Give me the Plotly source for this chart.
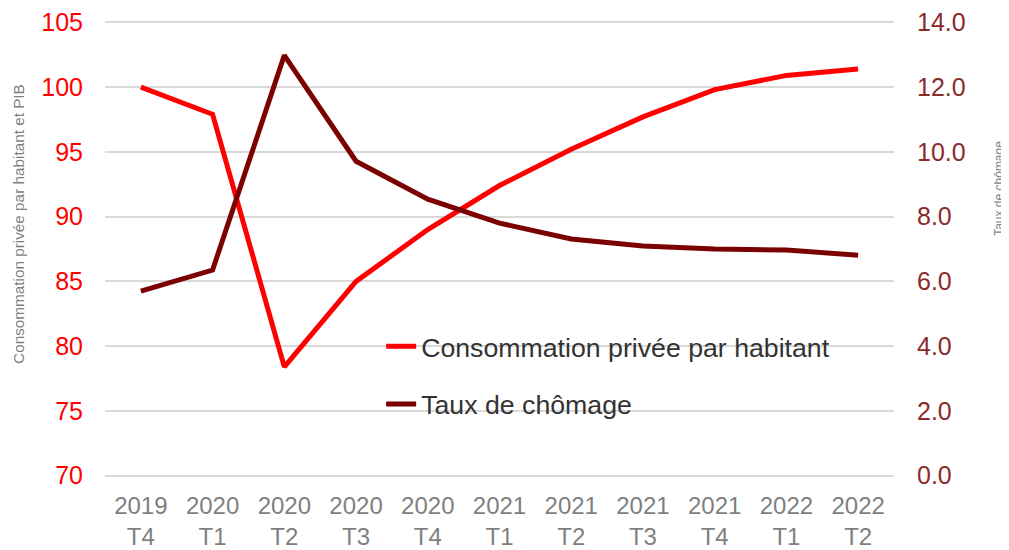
import plotly.graph_objects as go

trimestres = ["2019<br>T4", "2020<br>T1", "2020<br>T2", "2020<br>T3", "2020<br>T4",
              "2021<br>T1", "2021<br>T2", "2021<br>T3", "2021<br>T4", "2022<br>T1", "2022<br>T2"]
consommation = [100.0, 97.9, 78.4, 85.0, 89.0, 92.4, 95.2, 97.7, 99.8, 100.9, 101.4]
chomage = [5.7, 6.35, 12.98, 9.71, 8.54, 7.8, 7.31, 7.09, 7.0, 6.97, 6.81]

fig = go.Figure()

fig.add_trace(go.Scatter(
    x=trimestres, y=consommation, mode="lines",
    name="Consommation privée par habitant",
    line=dict(color="#FF0000", width=5),
    legendgroup="a",
))
fig.add_trace(go.Scatter(
    x=trimestres, y=chomage, mode="lines",
    name="Taux de chômage",
    line=dict(color="#7B0000", width=5),
    yaxis="y2", legendgroup="b",
))

# la page ajoute ~8px de marge au body : on compense ici
fig.update_layout(
    width=1009, height=550,
    margin=dict(l=97, r=123, t=13, b=81),
    plot_bgcolor="white", paper_bgcolor="white",
    font=dict(family="Liberation Sans, Arial, sans-serif"),
    showlegend=True,
    legend=dict(
        x=0.35, y=0.339, xanchor="left", yanchor="top",
        bgcolor="rgba(0,0,0,0)",
        font=dict(size=26.7, color="#333333"),
        tracegroupgap=20,
        traceorder="grouped",
    ),
    xaxis=dict(
        range=[-0.5, 10.5],
        showgrid=False, showline=False, zeroline=False,
        tickfont=dict(size=24, color="#7F7F7F"),
        ticks="", automargin=False, ticklabelstandoff=12,
    ),
    yaxis=dict(
        range=[69.9, 105.1], tick0=70, dtick=5,
        showgrid=True, gridcolor="#D9D9D9", gridwidth=1.5,
        zeroline=False, showline=False,
        tickfont=dict(size=25, color="#FF0000"),
        ticklabelstandoff=21, ticklabeloverflow="allow",
        automargin=False,
    ),
    yaxis2=dict(
        range=[-0.04, 14.04], tick0=0, dtick=2, tickformat=".1f",
        overlaying="y", side="right",
        showgrid=False, zeroline=False, showline=False,
        tickfont=dict(size=25, color="#8B2A2A"),
        ticklabelstandoff=22, ticklabeloverflow="allow",
        automargin=False,
    ),
)

fig.add_annotation(
    x=-0.109, y=0.555, xref="paper", yref="paper",
    xanchor="center", yanchor="middle",
    text="Consommation privée par habitant et PIB", textangle=-90,
    showarrow=False, font=dict(size=15.3, color="#7F7F7F"),
)
fig.add_annotation(
    x=1.133, y=0.634, xref="paper", yref="paper",
    xanchor="center", yanchor="middle",
    text="Taux de chômage", textangle=-90,
    showarrow=False, font=dict(size=12, color="#7F7F7F"),
)

fig.write_html("out.html")
